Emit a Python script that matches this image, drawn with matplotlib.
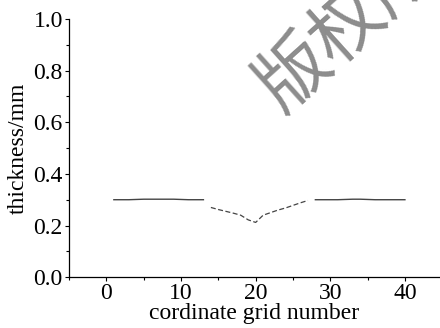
import numpy as np
import matplotlib
matplotlib.use("Agg")
import matplotlib.pyplot as plt
from matplotlib import ticker

# --- data ---
grid_left = list(range(1, 14))
thick_left = [0.300, 0.300, 0.300, 0.301, 0.302, 0.302, 0.302, 0.302, 0.302,
              0.301, 0.300, 0.300, 0.300]

grid_mid = list(range(14, 28))
thick_mid = [0.270, 0.262, 0.255, 0.248, 0.240, 0.222, 0.212, 0.240, 0.250,
             0.260, 0.268, 0.278, 0.288, 0.297]

grid_right = list(range(28, 41))
thick_right = [0.300, 0.300, 0.300, 0.300, 0.301, 0.302, 0.302, 0.301, 0.300,
               0.300, 0.300, 0.300, 0.300]

x_ticks = [0, 10, 20, 30, 40]
y_ticks = [0.0, 0.2, 0.4, 0.6, 0.8, 1.0]

plt.rcParams['font.family'] = ['Liberation Serif', 'DejaVu Serif']
plt.rcParams['xtick.direction'] = 'out'
plt.rcParams['ytick.direction'] = 'out'

fig = plt.figure(figsize=(4.4, 3.28), dpi=100)
ax = fig.add_axes([0.157, 0.155, 0.843, 0.787])

ax.plot(grid_left, thick_left, color='#444444', lw=1.0)
ax.plot(grid_mid, thick_mid, color='#444444', lw=0.9, ls=(0, (4, 2)))
ax.plot(grid_right, thick_right, color='#444444', lw=1.0)

ax.set_xlim(-5, 44.7)
ax.set_ylim(0, 1.0)
ax.set_xticks(x_ticks)
ax.set_yticks(y_ticks)
ax.xaxis.set_minor_locator(ticker.MultipleLocator(5))
ax.yaxis.set_minor_locator(ticker.MultipleLocator(0.1))
ax.yaxis.set_major_formatter(ticker.FormatStrFormatter('%.1f'))
ax.tick_params(which='major', length=3, width=0.8, pad=1.5, labelsize=17)
ax.tick_params(which='minor', length=2, width=0.8)

for side in ['top', 'right']:
    ax.spines[side].set_visible(False)
for side in ['left', 'bottom']:
    ax.spines[side].set_linewidth(0.9)

ax.set_xlabel("cordinate grid number", fontsize=17, labelpad=-1)
ax.set_ylabel("thickness/mm", fontsize=17, labelpad=3)

# watermark (runs off the top edge, as in the source image)
fig.text(0.608, 0.70, "版权所有", family=['Noto Sans CJK SC', 'DejaVu Sans'],
         fontsize=52, color='#8c8c8c', rotation=42, rotation_mode='anchor',
         ha='left', va='center', zorder=0)

fig.savefig("out.png", dpi=100)
